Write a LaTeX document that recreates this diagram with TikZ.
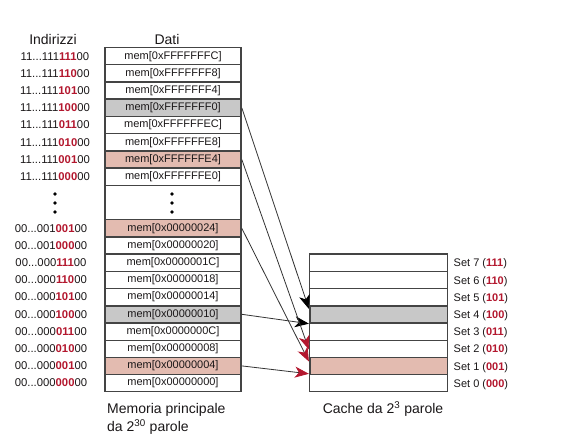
\documentclass[tikz,border=0pt]{standalone}
\usepackage{fontspec}
\setmainfont{Liberation Sans}
\usetikzlibrary{arrows.meta}
\definecolor{txt}{HTML}{1A1718}
\definecolor{bitred}{HTML}{B3172E}
\definecolor{hlgrey}{HTML}{C8C8C8}
\definecolor{hlpink}{HTML}{E3BBB0}
\definecolor{frame}{HTML}{444444}
\definecolor{wire}{HTML}{333333}
\newcommand{\rb}[1]{\textcolor{bitred}{\textbf{#1}}}
\begin{document}
\begin{tikzpicture}[x=1pt,y=-1pt,
  every node/.style={text=txt, inner sep=0pt},
  cell/.style={draw=frame, line width=1.2pt, minimum width=136pt, minimum height=17.2pt, font=\fontsize{11}{13}\selectfont},
  ccell/.style={draw=frame, line width=1.2pt, minimum width=137.6pt, minimum height=17.2pt},
  greycell/.style={fill=hlgrey, line width=1.6pt},
  pinkcell/.style={fill=hlpink, line width=1.6pt},
  addr/.style={font=\fontsize{11.3}{13}\selectfont},
  setlab/.style={anchor=west, font=\fontsize{11}{13}\selectfont},
  head/.style={font=\fontsize{14}{16}\selectfont},
  caption/.style={font=\fontsize{14}{18}\selectfont},
  blk/.style={draw=wire, line width=0.8pt, -{Stealth[length=14pt,width=11pt,inset=4pt,color=black]}},
  red/.style={draw=wire, line width=0.8pt, -{Stealth[length=14pt,width=11pt,inset=4pt,color=bitred]}},
  dot/.style={fill=black}
]
\useasboundingbox (0,0) rectangle (564,443);

% headers
\node[head] (hI) at (53,40) {Indirizzi};
\node[head] (hD) at (167,40) {Dati};

% upper memory rows
\node[cell] (m1) at (173,56.3) {mem[0xFFFFFFFC]};
\node[cell] (m2) at (173,73.5) {mem[0xFFFFFFF8]};
\node[cell] (m3) at (173,90.7) {mem[0xFFFFFFF4]};
\node[cell,greycell] (m4) at (173,107.9) {mem[0xFFFFFFF0]};
\node[cell] (m5) at (173,125.1) {mem[0xFFFFFFEC]};
\node[cell] (m6) at (173,142.3) {mem[0xFFFFFFE8]};
\node[cell,pinkcell] (m7) at (173,159.5) {mem[0xFFFFFFE4]};
\node[cell] (m8) at (173,176.7) {mem[0xFFFFFFE0]};
\node[cell, minimum height=34.4pt] (md) at (173,202.5) {};

% lower memory rows
\node[cell,pinkcell] (n0) at (173,228.3) {mem[0x00000024]};
\node[cell] (n1) at (173,245.5) {mem[0x00000020]};
\node[cell] (n2) at (173,262.7) {mem[0x0000001C]};
\node[cell] (n3) at (173,279.9) {mem[0x00000018]};
\node[cell] (n4) at (173,297.1) {mem[0x00000014]};
\node[cell,greycell] (n5) at (173,314.3) {mem[0x00000010]};
\node[cell] (n6) at (173,331.5) {mem[0x0000000C]};
\node[cell] (n7) at (173,348.7) {mem[0x00000008]};
\node[cell,pinkcell] (n8) at (173,365.9) {mem[0x00000004]};
\node[cell] (n9) at (173,383.1) {mem[0x00000000]};

% address labels
\node[addr] (a1) at (55,56.3) {11...111\rb{111}00};
\node[addr] (a2) at (55,73.5) {11...111\rb{110}00};
\node[addr] (a3) at (55,90.7) {11...111\rb{101}00};
\node[addr] (a4) at (55,107.9) {11...111\rb{100}00};
\node[addr] (a5) at (55,125.1) {11...111\rb{011}00};
\node[addr] (a6) at (55,142.3) {11...111\rb{010}00};
\node[addr] (a7) at (55,159.5) {11...111\rb{001}00};
\node[addr] (a8) at (55,176.7) {11...111\rb{000}00};

\node[addr] (b0) at (51,228.3) {00...001\rb{001}00};
\node[addr] (b1) at (51,245.5) {00...001\rb{000}00};
\node[addr] (b2) at (51,262.7) {00...000\rb{111}00};
\node[addr] (b3) at (51,279.9) {00...000\rb{110}00};
\node[addr] (b4) at (51,297.1) {00...000\rb{101}00};
\node[addr] (b5) at (51,314.3) {00...000\rb{100}00};
\node[addr] (b6) at (51,331.5) {00...000\rb{011}00};
\node[addr] (b7) at (51,348.7) {00...000\rb{010}00};
\node[addr] (b8) at (51,365.9) {00...000\rb{001}00};
\node[addr] (b9) at (51,383.1) {00...000\rb{000}00};

% vertical dots
\foreach \yy in {194,203,212} {
  \fill[dot] (55,\yy) circle (1.9pt);
  \fill[dot] (172,\yy) circle (1.9pt);
}

% cache
\node[ccell] (s7) at (378.5,262.7) {};
\node[ccell] (s6) at (378.5,279.9) {};
\node[ccell] (s5) at (378.5,297.1) {};
\node[ccell,greycell] (s4) at (378.5,314.3) {};
\node[ccell] (s3) at (378.5,331.5) {};
\node[ccell] (s2) at (378.5,348.7) {};
\node[ccell,pinkcell] (s1) at (378.5,365.9) {};
\node[ccell] (s0) at (378.5,383.1) {};

\node[setlab] (l7) at (453.5,264) {Set 7 (\rb{111})};
\node[setlab] (l6) at (453.5,281.2) {Set 6 (\rb{110})};
\node[setlab] (l5) at (453.5,298.4) {Set 5 (\rb{101})};
\node[setlab] (l4) at (453.5,315.6) {Set 4 (\rb{100})};
\node[setlab] (l3) at (453.5,332.8) {Set 3 (\rb{011})};
\node[setlab] (l2) at (453.5,350) {Set 2 (\rb{010})};
\node[setlab] (l1) at (453.5,367.2) {Set 1 (\rb{001})};
\node[setlab] (l0) at (453.5,384.4) {Set 0 (\rb{000})};

% captions
\node[caption, anchor=west, align=left] (capm) at (107,419) {Memoria principale\\da 2\textsuperscript{30} parole};
\node[caption] (capc) at (383,409) {Cache da 2\textsuperscript{3} parole};

% connectors
\draw[blk] (m4.east) -- ([yshift=-4pt]s4.north west);
\draw[blk] (n5.east) -- (s4.south west);
\draw[red] (m7.east) -- ([yshift=7pt]s1.north west);
\draw[red] (n0.east) -- ([yshift=-5pt]s1.north west);
\draw[red] (n8.east) -- ([yshift=1.5pt]s1.south west);
\end{tikzpicture}
\end{document}
